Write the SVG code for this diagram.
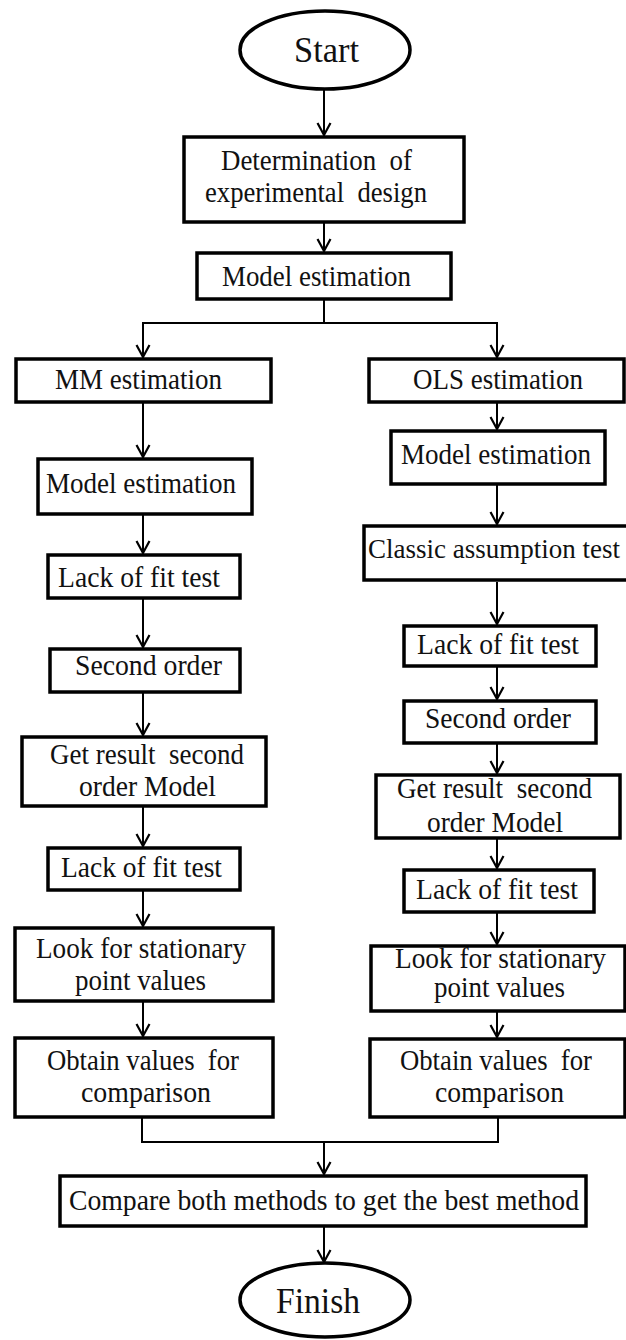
<svg xmlns="http://www.w3.org/2000/svg" width="626" height="1340" viewBox="0 0 626 1340">
<defs>
<style>
.b{fill:#fff;stroke:#000;stroke-width:3.5}
.t{font-family:"Liberation Serif","Times New Roman",serif;font-size:29px;fill:#111;text-anchor:middle}
.big{font-size:35px}
.c{fill:none;stroke:#000;stroke-width:2}
</style>
<marker id="arr" viewBox="-14 -8 16 16" refX="0" refY="0" markerWidth="16" markerHeight="16" markerUnits="userSpaceOnUse" orient="auto">
<path d="M -12 -6.5 L 0 0 L -12 6.5" fill="none" stroke="#000" stroke-width="2.2"/>
</marker>
</defs>
<rect width="626" height="1340" fill="#fff"/>
<g id="connectors">
<path class="c" d="M324 89V135" marker-end="url(#arr)"/>
<path class="c" d="M324 223V251" marker-end="url(#arr)"/>
<path class="c" d="M324 300V323M142 323H498"/>
<path class="c" d="M143 323V357" marker-end="url(#arr)"/>
<path class="c" d="M497 323V357" marker-end="url(#arr)"/>
<path class="c" d="M143 403V457" marker-end="url(#arr)"/>
<path class="c" d="M497 403V429" marker-end="url(#arr)"/>
<path class="c" d="M497 485V524" marker-end="url(#arr)"/>
<path class="c" d="M143 515V553" marker-end="url(#arr)"/>
<path class="c" d="M497 582V624" marker-end="url(#arr)"/>
<path class="c" d="M143 599V647" marker-end="url(#arr)"/>
<path class="c" d="M497 667V699" marker-end="url(#arr)"/>
<path class="c" d="M143 693V735" marker-end="url(#arr)"/>
<path class="c" d="M497 744V773" marker-end="url(#arr)"/>
<path class="c" d="M143 807V846" marker-end="url(#arr)"/>
<path class="c" d="M497 839V868" marker-end="url(#arr)"/>
<path class="c" d="M143 891V926" marker-end="url(#arr)"/>
<path class="c" d="M497 913V944" marker-end="url(#arr)"/>
<path class="c" d="M143 1002V1036" marker-end="url(#arr)"/>
<path class="c" d="M497 1012V1037" marker-end="url(#arr)"/>
<path class="c" d="M142 1118V1142H498V1118"/>
<path class="c" d="M324 1142V1174" marker-end="url(#arr)"/>
<path class="c" d="M324 1227V1262" marker-end="url(#arr)"/>
</g>
<g id="start"><ellipse class="b" cx="325" cy="50" rx="85" ry="39"/><text class="t big" x="326.5" y="62" textLength="65" lengthAdjust="spacingAndGlyphs">Start</text></g>
<g id="design"><rect class="b" x="184" y="137" width="280" height="85"/><text class="t" x="316.5" y="170" textLength="191" lengthAdjust="spacingAndGlyphs" xml:space="preserve">Determination  of</text><text class="t" x="316" y="202" textLength="222" lengthAdjust="spacingAndGlyphs" xml:space="preserve">experimental  design</text></g>
<g id="model-top"><rect class="b" x="197" y="253" width="254" height="46"/><text class="t" x="316.5" y="286" textLength="189" lengthAdjust="spacingAndGlyphs">Model estimation</text></g>
<g id="mm"><rect class="b" x="16" y="359" width="255" height="43"/><text class="t" x="138.5" y="389" textLength="167" lengthAdjust="spacingAndGlyphs">MM estimation</text></g>
<g id="ols"><rect class="b" x="369" y="359" width="255" height="43"/><text class="t" x="498" y="389" textLength="170" lengthAdjust="spacingAndGlyphs">OLS estimation</text></g>
<g id="model-left"><rect class="b" x="38" y="459" width="214" height="55"/><text class="t" x="141" y="493" textLength="190" lengthAdjust="spacingAndGlyphs">Model estimation</text></g>
<g id="model-right"><rect class="b" x="391" y="431" width="214" height="53"/><text class="t" x="496" y="464" textLength="190" lengthAdjust="spacingAndGlyphs">Model estimation</text></g>
<g id="classic"><rect class="b" x="364" y="526" width="270" height="54"/><text class="t" x="494" y="558" style="font-size:27px" textLength="252" lengthAdjust="spacingAndGlyphs">Classic assumption test</text></g>
<g id="lof-left-1"><rect class="b" x="48" y="555" width="192" height="43"/><text class="t" x="139" y="587" textLength="162" lengthAdjust="spacingAndGlyphs">Lack of fit test</text></g>
<g id="lof-right-1"><rect class="b" x="404" y="626" width="192" height="40"/><text class="t" x="498" y="654" textLength="162" lengthAdjust="spacingAndGlyphs">Lack of fit test</text></g>
<g id="second-left"><rect class="b" x="50" y="649" width="190" height="43"/><text class="t" x="148.5" y="675" textLength="147" lengthAdjust="spacingAndGlyphs">Second order</text></g>
<g id="second-right"><rect class="b" x="404" y="701" width="192" height="42"/><text class="t" x="498" y="728" textLength="146" lengthAdjust="spacingAndGlyphs">Second order</text></g>
<g id="result-left"><rect class="b" x="22" y="737" width="244" height="69"/><text class="t" x="147" y="764" textLength="194" lengthAdjust="spacingAndGlyphs" xml:space="preserve">Get result  second</text><text class="t" x="147.5" y="796" textLength="137" lengthAdjust="spacingAndGlyphs">order Model</text></g>
<g id="result-right"><rect class="b" x="376" y="775" width="244" height="63"/><text class="t" x="494.5" y="798" textLength="195" lengthAdjust="spacingAndGlyphs" xml:space="preserve">Get result  second</text><text class="t" x="495" y="832" textLength="136" lengthAdjust="spacingAndGlyphs">order Model</text></g>
<g id="lof-left-2"><rect class="b" x="48" y="848" width="192" height="42"/><text class="t" x="141.5" y="877" textLength="161" lengthAdjust="spacingAndGlyphs">Lack of fit test</text></g>
<g id="lof-right-2"><rect class="b" x="404" y="870" width="190" height="42"/><text class="t" x="497" y="899" textLength="162" lengthAdjust="spacingAndGlyphs">Lack of fit test</text></g>
<g id="look-left"><rect class="b" x="15" y="928" width="258" height="73"/><text class="t" x="141" y="958" textLength="210" lengthAdjust="spacingAndGlyphs">Look for stationary</text><text class="t" x="140.5" y="990" textLength="131" lengthAdjust="spacingAndGlyphs">point values</text></g>
<g id="look-right"><rect class="b" x="371" y="946" width="254" height="65"/><text class="t" x="500.5" y="968" textLength="211" lengthAdjust="spacingAndGlyphs">Look for stationary</text><text class="t" x="499.5" y="997" textLength="131" lengthAdjust="spacingAndGlyphs">point values</text></g>
<g id="obtain-left"><rect class="b" x="15" y="1038" width="258" height="79"/><text class="t" x="143" y="1070" textLength="192" lengthAdjust="spacingAndGlyphs" xml:space="preserve">Obtain values  for</text><text class="t" x="146" y="1102" textLength="130" lengthAdjust="spacingAndGlyphs">comparison</text></g>
<g id="obtain-right"><rect class="b" x="370" y="1039" width="255" height="78"/><text class="t" x="496" y="1070" textLength="192" lengthAdjust="spacingAndGlyphs" xml:space="preserve">Obtain values  for</text><text class="t" x="499.5" y="1102" textLength="129" lengthAdjust="spacingAndGlyphs">comparison</text></g>
<g id="compare"><rect class="b" x="60" y="1176" width="526" height="50"/><text class="t" x="324" y="1210" textLength="510" lengthAdjust="spacingAndGlyphs">Compare both methods to get the best method</text></g>
<g id="finish"><ellipse class="b" cx="325" cy="1300" rx="85" ry="37"/><text class="t big" x="318" y="1313" textLength="84" lengthAdjust="spacingAndGlyphs">Finish</text></g>
</svg>
